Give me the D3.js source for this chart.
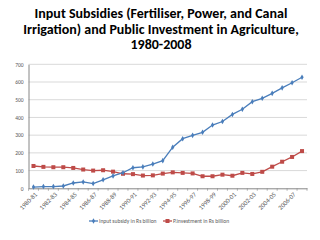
<!DOCTYPE html>
<html><head><meta charset="utf-8">
<script src="https://cdn.jsdelivr.net/npm/d3@7"></script>
<style>body{margin:0;background:#fff;}svg{display:block;}</style>
</head><body>
<svg id="c" width="320" height="240"></svg>
<script>
const categories = ["1980-81","1981-82","1982-83","1983-84","1984-85","1985-86","1986-87","1987-88","1988-89","1989-90","1990-91","1991-92","1992-93","1993-94","1994-95","1995-96","1996-97","1997-98","1998-99","1999-00","2000-01","2001-02","2002-03","2003-04","2004-05","2005-06","2006-07","2007-08"];
const inputSubsidy = [7,10,10,13,30,36,27,48,70,88,116,121,137,156,232,280,299,316,357,377,417,446,489,508,536,567,596,627];
const publicInvestment = [126,121,119,119,115,106,100,102,94,82,80,72,73,83,90,87,84,68,68,77,71,87,81,93,122,150,177,210];
const yTicks = [0,100,200,300,400,500,600,700];
const seriesNames = ["Input subsidy in Rs billion","P.investment in Rs billion"];
const titleLines = ["Input Subsidies (Fertiliser, Power, and Canal","Irrigation) and Public Investment in Agriculture,","1980-2008"];

const svg = d3.select("#c");
const font = "Calibri, Carlito, Lato, 'Liberation Sans', sans-serif";
const L = 28.5, R = 307, T = 64.3, B = 188.3;

// title
const tl = svg.append("g").selectAll("text").data(titleLines).join("text")
  .attr("x", 161).attr("y", (d,i)=>18 + i*15.5)
  .attr("text-anchor","middle").attr("font-family",font).attr("font-weight","bold")
  .attr("font-size",14).attr("fill","#000").text(d=>d);
const w0 = tl.nodes()[0].getComputedTextLength();
tl.attr("font-size", 14 * 253 / w0);

const x = d3.scaleBand().domain(categories).range([L, R]);
const y = d3.scaleLinear().domain([0,700]).range([B, T]);

// gridlines
svg.append("g").selectAll("line").data(yTicks.filter(d=>d>0)).join("line")
  .attr("x1",L).attr("x2",R).attr("y1",d=>y(d)).attr("y2",d=>y(d))
  .attr("stroke","#d9d9d9").attr("stroke-width",1);

// y axis
const ya = svg.append("g").attr("transform",`translate(${L},0)`)
  .call(d3.axisLeft(y).tickValues(yTicks).tickSize(0).tickPadding(5));
ya.select(".domain").attr("stroke","#868686");
ya.selectAll("text").attr("font-family",font).attr("font-size",5.5).attr("fill","#595959");

// x axis
const xa = svg.append("g").attr("transform",`translate(0,${B})`)
  .call(d3.axisBottom(x).tickValues([]).tickSize(0));
xa.select(".domain").attr("stroke","#868686");
svg.append("g").selectAll("line").data(d3.range(categories.length+1)).join("line")
  .attr("x1",i=>L + i*x.step()).attr("x2",i=>L + i*x.step())
  .attr("y1",B).attr("y2",B+2.5).attr("stroke","#868686").attr("stroke-width",0.6);
svg.append("g").selectAll("text").data(categories.filter((d,i)=>i%2===0)).join("text")
  .attr("transform",d=>`translate(${x(d)+x.bandwidth()/2+2.5},${B+5}) rotate(-45)`)
  .attr("text-anchor","end").attr("dy","0.35em").attr("font-family",font).attr("font-size",6.5).attr("fill","#595959")
  .text(d=>d);

const cx = d => x(d) + x.bandwidth()/2;
const line = d3.line().x((d,i)=>cx(categories[i])).y(d=>y(d));

const blue = "#4A7EBB", red = "#BE4B48";
svg.append("path").datum(publicInvestment).attr("d",line).attr("fill","none").attr("stroke",red).attr("stroke-width",1.3);
svg.append("g").selectAll("rect").data(publicInvestment).join("rect")
  .attr("x",(d,i)=>cx(categories[i])-2).attr("y",d=>y(d)-2).attr("width",4).attr("height",4).attr("fill",red);
svg.append("path").datum(inputSubsidy).attr("d",line).attr("fill","none").attr("stroke",blue).attr("stroke-width",1.3);
const diamond = d3.symbol().type(d3.symbolDiamond).size(9);
svg.append("g").selectAll("path").data(inputSubsidy).join("path")
  .attr("transform",(d,i)=>`translate(${cx(categories[i])},${y(d)})`).attr("d",diamond).attr("fill",blue);

// legend
const lg = svg.append("g");
const legItems = [{name:seriesNames[0],color:blue,x:89,sym:"d"},{name:seriesNames[1],color:red,x:163,sym:"s"}];
const ly = 221;
legItems.forEach(it=>{
  lg.append("line").attr("x1",it.x).attr("x2",it.x+9).attr("y1",ly).attr("y2",ly).attr("stroke",it.color).attr("stroke-width",1.3);
  if(it.sym==="d") lg.append("path").attr("transform",`translate(${it.x+4.5},${ly})`).attr("d",diamond).attr("fill",it.color);
  else lg.append("rect").attr("x",it.x+2.5).attr("y",ly-2).attr("width",4).attr("height",4).attr("fill",it.color);
  lg.append("text").attr("x",it.x+10).attr("y",ly).attr("dy","0.35em").attr("font-family",font).attr("font-size",5.6).attr("fill","#595959").text(it.name);
});
</script>
</body></html>
